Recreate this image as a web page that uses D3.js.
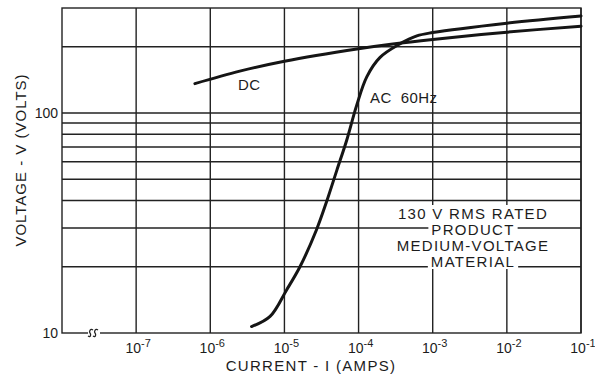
<!DOCTYPE html>
<html>
<head>
<meta charset="utf-8">
<script src="https://cdn.jsdelivr.net/npm/d3@7"></script>
<style>
  html, body { margin: 0; padding: 0; background: #fff; }
  svg { display: block; }
  text { font-family: "Liberation Sans", Arial, sans-serif; fill: #1c1c1c; }
</style>
</head>
<body>
<svg id="chart" width="595" height="377"></svg>
<script>
// Decade exponents for the current axis ticks (10^-7 ... 10^-1)
const currentTickExps = [-7, -6, -5, -4, -3, -2, -1];
// Voltage grid lines and labelled voltage ticks
const voltageGrid = [20, 30, 40, 50, 60, 70, 80, 90, 100, 200];
const voltageTicks = [10, 100];

// DC characteristic: current (A) and voltage (V)
const dcCurrent = [6.2e-7, 2.5e-6, 1.0e-5, 1.0e-4, 2.9e-4, 1.0e-3, 1.0e-2, 1.0e-1];
const dcVoltage = [136, 155, 172, 196, 206, 216, 233, 248];

// AC 60 Hz characteristic: current (A, peak) and voltage (V)
const acCurrent = [3.6e-6, 6.4e-6, 1.07e-5, 1.62e-5, 2.7e-5, 3.7e-5, 5.1e-5, 6.9e-5,
                   9.4e-5, 1.29e-4, 1.95e-4, 3.6e-4, 6.1e-4, 1.0e-3, 1.0e-2, 1.0e-1];
const acVoltage = [10.7, 11.9, 15.7, 20.0, 29.4, 39.5, 55, 75,
                   108, 146, 179, 206, 224, 232, 256, 276];

const noteLines = ["130 V RMS RATED", "PRODUCT", "MEDIUM-VOLTAGE", "MATERIAL"];

const svg = d3.select("#chart");
const plotL = 62, plotR = 581, plotT = 8, plotB = 333;
const ink = "#222";

const x = d3.scaleLog().domain([1e-8, 1e-1]).range([plotL, plotR]);
const y = d3.scaleLog().domain([10, 300]).range([plotB, plotT]);

const grid = svg.append("g").attr("stroke", ink).attr("stroke-width", 1.4).attr("fill", "none");

// horizontal grid lines
grid.selectAll("line.h").data(voltageGrid).join("line")
  .attr("class", "h")
  .attr("x1", plotL).attr("x2", plotR)
  .attr("y1", d => y(d)).attr("y2", d => y(d));

// vertical decade lines
grid.selectAll("line.v").data(currentTickExps).join("line")
  .attr("class", "v")
  .attr("y1", plotT).attr("y2", plotB)
  .attr("x1", d => x(Math.pow(10, d))).attr("x2", d => x(Math.pow(10, d)));

// frame
grid.append("rect")
  .attr("x", plotL).attr("y", plotT)
  .attr("width", plotR - plotL).attr("height", plotB - plotT);

// axis break on the current axis
const bx = plotL + 32;
svg.append("rect").attr("x", bx - 6).attr("y", plotB - 3).attr("width", 12).attr("height", 6).attr("fill", "#fff");
[bx - 3, bx + 2].forEach(cx => {
  svg.append("path")
    .attr("d", `M${cx - 3},${plotB + 3} C${cx},${plotB + 5} ${cx},${plotB + 1} ${cx - 1},${plotB}` +
               ` C${cx - 2},${plotB - 1} ${cx - 1},${plotB - 5} ${cx + 2},${plotB - 3}`)
    .attr("fill", "none").attr("stroke", ink).attr("stroke-width", 1.3);
});

// note block: text knocks out the grid behind it
const note = svg.append("g");
const noteX = 473, noteY0 = 213, notePitch = 16;
noteLines.forEach((t, i) => {
  const cy = noteY0 + i * notePitch;
  const bg = note.append("rect").attr("fill", "#fff");
  const txt = note.append("text")
    .attr("x", noteX).attr("y", cy + 5.5)
    .attr("text-anchor", "middle")
    .attr("font-size", 15).attr("letter-spacing", 1.3)
    .text(t);
  const bb = txt.node().getBBox();
  bg.attr("x", bb.x - 3).attr("width", bb.width + 6)
    .attr("y", cy - notePitch / 2).attr("height", notePitch);
});

// curves
const line = d3.line().curve(d3.curveCatmullRom.alpha(0.5));
const dcPts = dcCurrent.map((c, i) => [x(c), y(dcVoltage[i])]);
const acPts = acCurrent.map((c, i) => [x(c), y(acVoltage[i])]);
svg.append("path").attr("d", line(dcPts))
  .attr("fill", "none").attr("stroke", "#151515").attr("stroke-width", 3).attr("stroke-linecap", "round");
svg.append("path").attr("d", line(acPts))
  .attr("fill", "none").attr("stroke", "#151515").attr("stroke-width", 3).attr("stroke-linecap", "round");

// curve labels
svg.append("text").attr("x", 238).attr("y", 90).attr("font-size", 15).attr("letter-spacing", 0.5).text("DC");
svg.append("text").attr("x", 370).attr("y", 103).attr("font-size", 15).attr("letter-spacing", 0.4)
  .attr("xml:space", "preserve").text("AC  60Hz");

// voltage tick labels
svg.selectAll("text.yt").data(voltageTicks).join("text")
  .attr("class", "yt")
  .attr("x", plotL - 4).attr("y", d => y(d) + 5)
  .attr("text-anchor", "end").attr("font-size", 14)
  .text(d => d);

// current tick labels (10 with superscript exponent)
const xt = svg.selectAll("text.xt").data(currentTickExps).join("text")
  .attr("class", "xt")
  .attr("x", d => x(Math.pow(10, d)) + 2).attr("y", 353)
  .attr("text-anchor", "middle").attr("font-size", 14);
xt.append("tspan").text("10");
xt.append("tspan").attr("dy", -6).attr("font-size", 11).text(d => "-" + Math.abs(d));

// axis titles
svg.append("text").attr("x", 311).attr("y", 371)
  .attr("text-anchor", "middle").attr("font-size", 15).attr("letter-spacing", 1.3)
  .text("CURRENT - I (AMPS)");
svg.append("text")
  .attr("transform", "translate(26,160) rotate(-90)")
  .attr("text-anchor", "middle").attr("font-size", 15).attr("letter-spacing", 1.0)
  .text("VOLTAGE - V (VOLTS)");
</script>
</body>
</html>
